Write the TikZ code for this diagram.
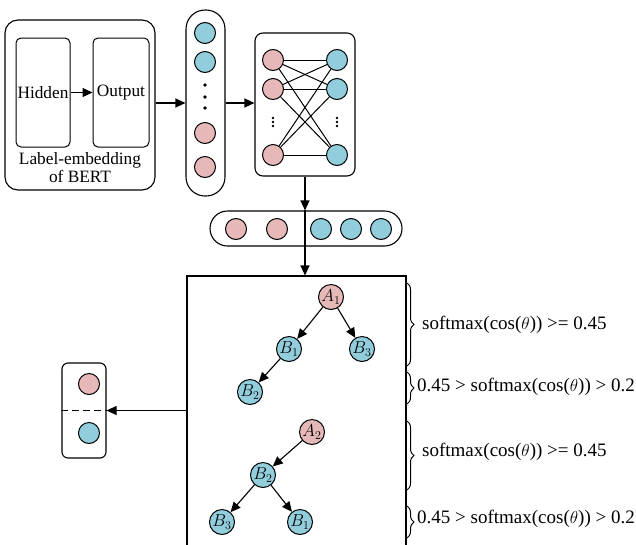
\documentclass[tikz,border=0pt]{standalone}
\usepackage{fontspec}
\setmainfont{Liberation Serif}
\usetikzlibrary{arrows.meta,positioning,decorations.pathreplacing,calc}
\definecolor{EmbPink}{HTML}{E6B9B8}
\definecolor{EmbBlue}{HTML}{92CDDC}
\tikzset{
  frame/.style={draw,line width=1.1pt,rounded corners=10pt,minimum width=#1},
  inbox/.style={draw,line width=1pt,rounded corners=5pt,minimum height=109pt,inner sep=0pt},
  pinkdot/.style={circle,draw,line width=1pt,fill=EmbPink,minimum size=21pt,inner sep=0pt},
  bluedot/.style={circle,draw,line width=1pt,fill=EmbBlue,minimum size=21pt,inner sep=0pt},
  pinktree/.style={pinkdot,minimum size=25pt,font=\fontsize{16.5}{17}\selectfont},
  bluetree/.style={bluedot,minimum size=25pt,font=\fontsize{16.5}{17}\selectfont},
  flow/.style={-{Triangle[length=10pt,width=9pt]},line width=1.1pt},
  brace/.style={decorate,decoration={brace,amplitude=7pt},line width=1pt},
  cond/.style={anchor=west,inner sep=0pt,font=\fontsize{19}{20}\selectfont}
}
\begin{document}
\begin{tikzpicture}[x=1pt,y=-1pt,font=\fontsize{17.3}{18}\selectfont]
  \useasboundingbox (0,0) rectangle (636,544);
  % label embedding block
  \node[frame=150pt,minimum height=170pt,rounded corners=13pt] (bert) at (80,105) {};
  \node[inbox,minimum width=54pt] (hid) at (43,92.5) {Hidden};
  \node[inbox,minimum width=56pt] (out) at (121,92.5) {Output};
  \node[align=center,inner sep=0pt] (bertlbl) at (80,168) {Label-embedding\\of BERT};
  \draw[flow] (hid) -- (out);
  % embedding column
  \node[frame=39pt,minimum height=186pt,rounded corners=19pt] (col) at (205.5,103) {};
  \node[bluedot] (c1) at (205,33) {};
  \node[bluedot] (c2) at (205,62) {};
  \node[pinkdot] (c3) at (205,133) {};
  \node[pinkdot] (c4) at (205,167) {};
  \foreach \y in {85,97,108} \fill (205,\y) circle (1.9pt);
  \draw[flow] (bert.east |- col.west) -- (col.west);
  % fully connected layer
  \node[frame=100pt,minimum height=143pt,rounded corners=8pt] (nn) at (305,104.5) {};
  \foreach \n/\y in {1/60,2/89,3/155} {
    \node[pinkdot] (l\n) at (273,\y) {};
    \node[bluedot] (r\n) at (337,\y) {};
  }
  \foreach \i in {1,2,3} \foreach \j in {1,2,3} \draw[line width=1pt] (l\i) -- (r\j);
  \foreach \x in {273,337} \foreach \y in {118,122,126} \fill (\x,\y) circle (1.3pt);
  \draw[flow] (col.east) -- (col.east -| nn.west);
  % concatenated vector
  \node[frame=192pt,minimum height=35pt,rounded corners=17.5pt] (pill) at (306,228.5) {};
  \node[pinkdot] (p1) at (236,229) {};
  \node[pinkdot] (p2) at (277,229) {};
  \node[bluedot] (p3) at (321,229) {};
  \node[bluedot] (p4) at (351,229) {};
  \node[bluedot] (p5) at (381,229) {};
  \draw[flow] (nn.south) -- (nn.south |- pill.north);
  \draw[line width=1.1pt] (nn.south |- pill.north) -- (nn.south |- pill.south);
  % tree block
  \node[draw,line width=1.1pt,minimum width=219pt,minimum height=272pt,inner sep=0pt] (tree) at (296.5,412) {};
  \draw[flow] (nn.south |- pill.south) -- (nn.south |- tree.north);
  \node[pinktree] (a1) at (331,297) {$A_1$};
  \node[bluetree] (b1) at (289,349) {$B_1$};
  \node[bluetree] (b3) at (362,349) {$B_3$};
  \node[bluetree] (b2) at (250,392) {$B_2$};
  \node[pinktree] (a2) at (312,432) {$A_2$};
  \node[bluetree] (d2) at (263,475) {$B_2$};
  \node[bluetree] (d3) at (222,522) {$B_3$};
  \node[bluetree] (d1) at (300,522) {$B_1$};
  \draw[flow] (a1) -- (b1);
  \draw[flow] (a1) -- (b3);
  \draw[flow] (b1) -- (b2);
  \draw[flow] (a2) -- (d2);
  \draw[flow] (d2) -- (d3);
  \draw[flow] (d2) -- (d1);
  % thresholds
  \draw[brace] (407,283) -- (407,366);
  \draw[brace] (407,372) -- (407,404);
  \draw[brace] (407,421) -- (407,490);
  \draw[brace] (407,506) -- (407,538);
  \node[cond] (t1) at (422,325) {softmax(cos($\theta$)) >= 0.45};
  \node[cond] (t2) at (417,387) {0.45 > softmax(cos($\theta$)) > 0.2};
  \node[cond] (t3) at (422,452) {softmax(cos($\theta$)) >= 0.45};
  \node[cond] (t4) at (417,519) {0.45 > softmax(cos($\theta$)) > 0.2};
  % selected pair
  \node[frame=44pt,minimum height=95pt,rounded corners=6pt] (sel) at (84,410.5) {};
  \node[pinkdot] (s1) at (89,384) {};
  \node[bluedot] (s2) at (89,433) {};
  \draw[dashed,line width=1.1pt,dash pattern=on 7pt off 4pt] (sel.west) -- (sel.east);
  \draw[flow] (sel.east -| tree.west) -- (sel.east);
\end{tikzpicture}
\end{document}
